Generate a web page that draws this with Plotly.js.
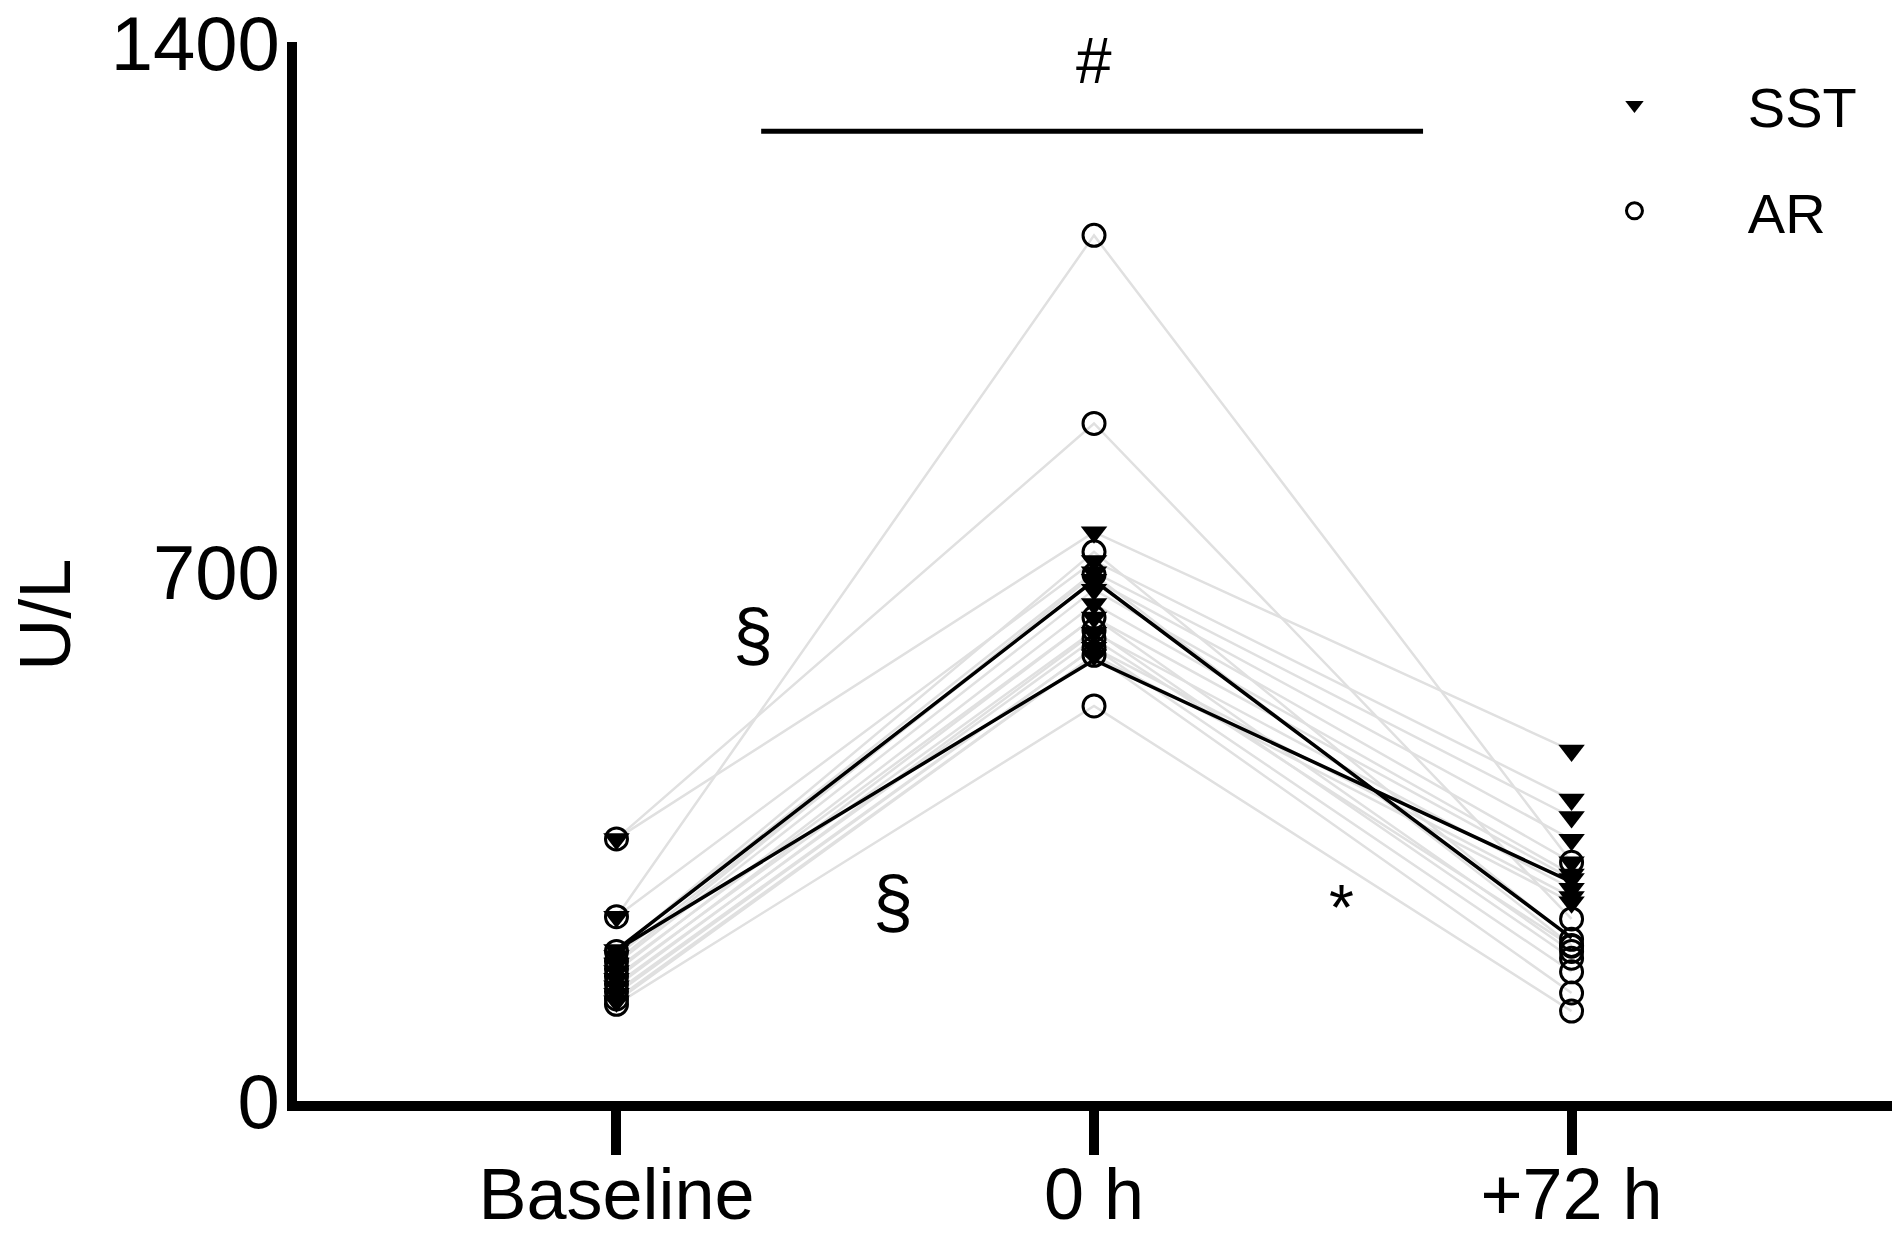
<!DOCTYPE html>
<html>
<head>
<meta charset="utf-8">
<script src="https://cdn.plot.ly/plotly-3.0.1.min.js"></script>
<style>
  html, body { margin: 0; padding: 0; background: #fff; }
  #chart { width: 1904px; height: 1235px; }
</style>
</head>
<body>
<div id="chart"></div>
<script>
// time points on the x axis
var timepoints = ['Baseline', '0 h', '+72 h'];

// SST subjects (filled triangles), U/L
var sstBaseline = [347, 244, 200, 192, 182, 172, 162, 152, 142, 132];
var sst0h       = [753, 715, 700, 690, 677, 658, 640, 620, 600, 590];
var sst72h      = [464, 399, 376, 346, 316, 300, 294, 281, 270, 263];

// AR subjects (open circles), U/L
var arBaseline = [244, 347, 198, 185, 175, 165, 155, 145, 135, 128];
var ar0h       = [1146, 897, 727, 697, 640, 623, 612, 600, 590, 523];
var ar72h      = [316, 241, 214, 206, 198, 189, 205, 171, 143, 119];

// the two black summary lines
var blackLineA = [200, 689, 216];
var blackLineB = [200, 584, 290];

var fontFamily = 'Arial, "Liberation Sans", sans-serif';
var pad = '\u00a0\u00a0\u00a0\u00a0\u00a0\u00a0';
var data = [];

// light grey line for every subject
function addSubjects(base, h0, h72) {
    for (var i = 0; i < base.length; i++) {
        data.push({
            type: 'scatter',
            mode: 'lines',
            x: timepoints,
            y: [base[i], h0[i], h72[i]],
            line: { color: '#e0e0e0', width: 2.5 },
            showlegend: false,
            hoverinfo: 'skip'
        });
    }
}
addSubjects(sstBaseline, sst0h, sst72h);
addSubjects(arBaseline, ar0h, ar72h);

[blackLineA, blackLineB].forEach(function (vals) {
    data.push({
        type: 'scatter',
        mode: 'lines',
        x: timepoints,
        y: vals,
        line: { color: '#000', width: 3.5 },
        showlegend: false
    });
});

// markers: x repeated for each subject
function xs(n) {
    var out = [];
    for (var i = 0; i < n; i++) out.push(timepoints[0]);
    for (var i = 0; i < n; i++) out.push(timepoints[1]);
    for (var i = 0; i < n; i++) out.push(timepoints[2]);
    return out;
}

data.push({
    type: 'scatter',
    mode: 'markers',
    name: pad + 'AR',
    legendrank: 2,
    legendgroup: 'ar',
    x: xs(arBaseline.length),
    y: arBaseline.concat(ar0h, ar72h),
    marker: { symbol: 'circle-open', size: 22, color: '#000', line: { width: 3, color: '#000' } }
});

data.push({
    type: 'scatter',
    mode: 'markers',
    name: pad + 'SST',
    legendrank: 1,
    legendgroup: 'sst',
    x: xs(sstBaseline.length),
    y: sstBaseline.concat(sst0h, sst72h),
    marker: { symbol: 'triangle-down', size: 23, color: '#000' }
});

var layout = {
    width: 1904,
    height: 1235,
    margin: { l: 297, r: 12, t: 42, b: 134 },
    paper_bgcolor: '#fff',
    plot_bgcolor: '#fff',
    font: { family: fontFamily, color: '#000', size: 72 },
    showlegend: true,
    legend: {
        x: 0.826, y: 0.981, xanchor: 'left', yanchor: 'top',
        font: { size: 56 },
        tracegroupgap: 30,
        bgcolor: 'rgba(0,0,0,0)'
    },
    xaxis: {
        type: 'category',
        categoryarray: timepoints,
        range: [-0.669, 2.671],
        showline: true, linewidth: 10, linecolor: '#000',
        showgrid: false, zeroline: false,
        ticks: 'outside', ticklen: 44, tickwidth: 10, tickcolor: '#000',
        ticklabelstandoff: -22,
        tickfont: { size: 72 }
    },
    yaxis: {
        range: [0, 1402],
        tickvals: [0, 700, 1400],
        showline: true, linewidth: 10, linecolor: '#000',
        showgrid: false, zeroline: false,
        ticks: '',
        ticklabelstandoff: -8,
        ticklabeloverflow: 'allow',
        tickfont: { size: 76 }
    },
    shapes: [
        { type: 'line', xref: 'x', yref: 'y', x0: 0.303, x1: 1.689, y0: 1284, y1: 1284,
          line: { color: '#000', width: 5 } }
    ],
    annotations: [
        { x: -0.184, y: 643, xref: 'paper', yref: 'y', text: 'U/L', textangle: -90,
          showarrow: false, font: { size: 72 } },
        { x: 1, y: 1377, xref: 'x', yref: 'y', text: '#', showarrow: false, font: { size: 64 } },
        { x: 0.286, y: 618, xref: 'x', yref: 'y', text: '§', showarrow: false, font: { size: 72 } },
        { x: 0.579, y: 265, xref: 'x', yref: 'y', text: '§', showarrow: false, font: { size: 72 } },
        { x: 1.519, y: 255, xref: 'x', yref: 'y', text: '*', showarrow: false, font: { size: 64 } }
    ]
};

Plotly.newPlot('chart', data, layout, { displayModeBar: false, staticPlot: true });
</script>
</body>
</html>
